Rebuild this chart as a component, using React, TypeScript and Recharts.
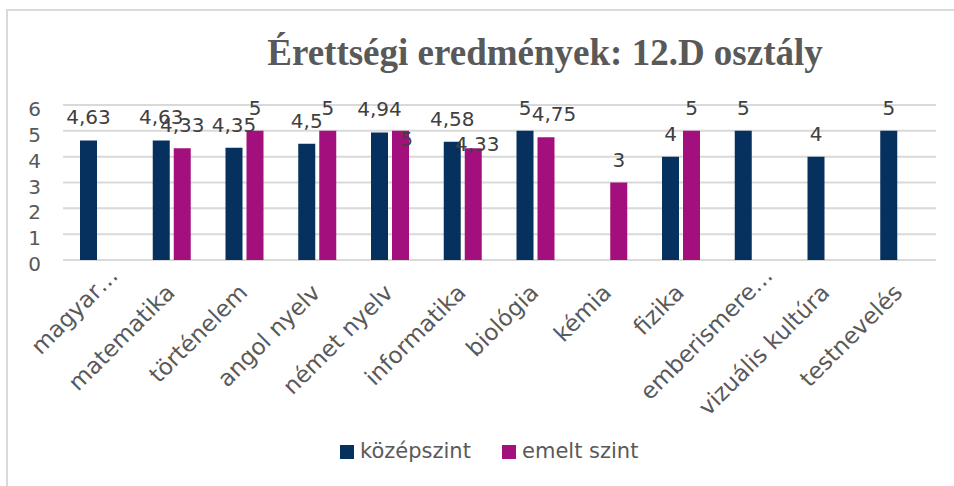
import React from 'react';
import { BarChart, Bar, XAxis, YAxis, CartesianGrid, LabelList } from 'recharts';

const title = 'Érettségi eredmények: 12.D osztály';
const categories = [
  'magyar…', 'matematika', 'történelem', 'angol nyelv', 'német nyelv', 'informatika',
  'biológia', 'kémia', 'fizika', 'emberismere…', 'vizuális kultúra', 'testnevelés',
];
const kozepszint: (number | null)[] = [4.63, 4.63, 4.35, 4.5, 4.94, 4.58, 5, null, 4, 5, 4, 5];
const emeltSzint: (number | null)[] = [null, 4.33, 5, 5, 5, 4.33, 4.75, 3, 5, null, null, null];
const yTicks = [0, 1, 2, 3, 4, 5, 6];
const seriesNames = ['középszint', 'emelt szint'];

const NAVY = '#06305E';
const PINK = '#A3107E';
const FONT = '"DejaVu Sans", sans-serif';

// label nudges (style only): [dx, dy] per series / category
const labelNudge: Record<string, Record<string, [number, number]>> = {
  emelt: { 'német nyelv': [6, 31], informatika: [4, 19], 'biológia': [8, 0] },
  kozep: {},
};

const data = categories.map((c, i) => ({ name: c, kozep: kozepszint[i], emelt: emeltSzint[i] }));

const fmt = (v: number) => String(v).replace('.', ',');

const makeLabel = (series: string, values: (number | null)[]) => (props: any) => {
  const { x, y, width, value } = props;
  const idx = categories.indexOf(String(value));
  if (idx < 0) return null;
  const v = values[idx];
  if (v == null) return null;
  const n = labelNudge[series][categories[idx]] || [0, 0];
  return (
    <text
      x={Number(x) + Number(width) / 2 + n[0]}
      y={Number(y) - 16 + n[1]}
      textAnchor="middle"
      fontSize={20}
      fill="#404040"
      fontFamily={FONT}
    >
      {fmt(v)}
    </text>
  );
};

const XTick = (props: any) => {
  const { x, y, payload } = props;
  const label = String(payload.value);
  const trunc = label.endsWith('…');
  const tx = Number(x) + 4 + (trunc ? 16 : 0);
  const ty = Number(y) + 26 - (trunc ? 17 : 0);
  return (
    <g transform={`translate(${tx},${ty})`}>
      <text transform="rotate(-45)" textAnchor="end" fontSize={23} fill="#595959" fontFamily={FONT}>
        {label}
      </text>
    </g>
  );
};

const YTick = (props: any) => {
  const { x, y, payload } = props;
  return (
    <text x={x} y={Number(y) + 11} textAnchor="end" fontSize={20} fill="#595959" fontFamily={FONT}>
      {payload.value}
    </text>
  );
};

export default function App() {
  const colors = [NAVY, PINK];
  const legendX = [340, 502];
  return (
    <div style={{ position: 'absolute', left: 0, top: 0, width: 954, height: 486, overflow: 'hidden', background: '#fff' }}>
      <div
        style={{
          position: 'absolute', left: 6, top: 9, width: 1000, height: 600,
          border: '2px solid #d9d9d9', boxSizing: 'border-box',
        }}
      />
      <div style={{ position: 'absolute', left: 0, top: 0 }}>
        <BarChart
          width={954}
          height={486}
          data={data}
          margin={{ top: 105, right: 18, left: 0, bottom: 0 }}
          barSize={17}
          barGap={4}
        >
          <CartesianGrid vertical={false} stroke="#d9d9d9" strokeWidth={2} />
          <XAxis
            dataKey="name"
            interval={0}
            tickLine={false}
            axisLine={false}
            height={226}
            tick={<XTick />}
          />
          <YAxis
            domain={[0, 6]}
            ticks={yTicks}
            width={63}
            tickLine={false}
            axisLine={false}
            tickMargin={16}
            tick={<YTick />}
            interval={0}
          />
          <Bar dataKey="kozep" name={seriesNames[0]} fill={NAVY} isAnimationActive={false}>
            <LabelList dataKey="name" content={makeLabel('kozep', kozepszint)} />
          </Bar>
          <Bar dataKey="emelt" name={seriesNames[1]} fill={PINK} isAnimationActive={false}>
            <LabelList dataKey="name" content={makeLabel('emelt', emeltSzint)} />
          </Bar>
        </BarChart>
      </div>
      <svg width={954} height={486} style={{ position: 'absolute', left: 0, top: 0, pointerEvents: 'none' }}>
        <text x={545} y={65} textAnchor="middle" fontSize={37} fontWeight="bold" fill="#595959" fontFamily='"Liberation Serif", serif'>
          {title}
        </text>
        {seriesNames.map((s, i) => (
          <g key={s}>
            <rect x={legendX[i]} y={445} width={14} height={14} fill={colors[i]} />
            <text x={legendX[i] + 20} y={458} fontSize={21} fill="#595959" fontFamily={FONT}>{s}</text>
          </g>
        ))}
      </svg>
    </div>
  );
}
